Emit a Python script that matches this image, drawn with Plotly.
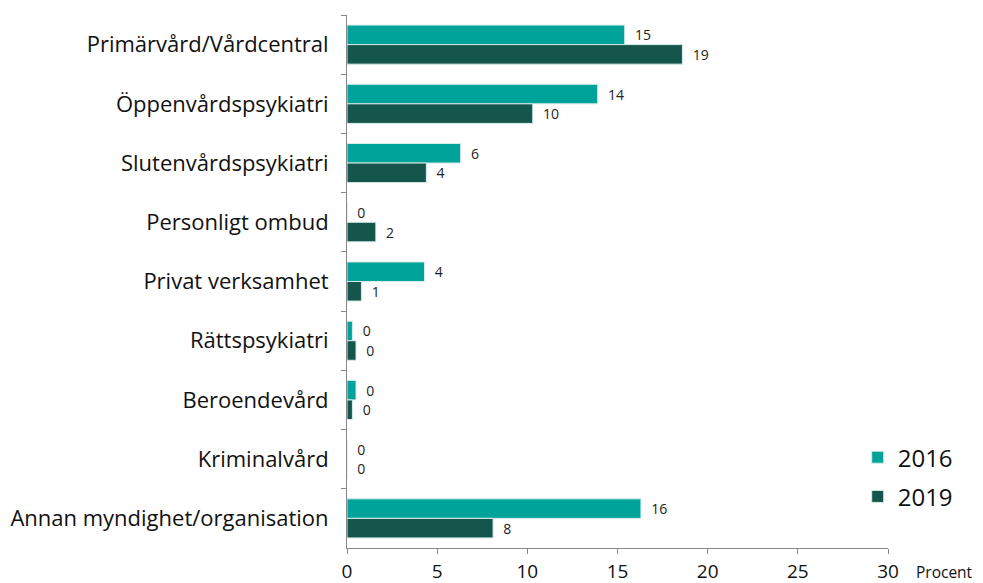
import plotly.graph_objects as go

categories = [
    "Primärvård/Vårdcentral",
    "Öppenvårdspsykiatri",
    "Slutenvårdspsykiatri",
    "Personligt ombud",
    "Privat verksamhet",
    "Rättspsykiatri",
    "Beroendevård",
    "Kriminalvård",
    "Annan myndighet/organisation",
]
values_2016 = [15.4, 13.9, 6.3, 0.0, 4.3, 0.3, 0.5, 0.0, 16.3]
values_2019 = [18.6, 10.3, 4.4, 1.6, 0.8, 0.5, 0.3, 0.0, 8.1]
x_ticks = [0, 5, 10, 15, 20, 25, 30]

TEAL = "#00A39A"
DARK = "#14554C"
FONT = "Open Sans"

fig = go.Figure()
for name, vals, color in (("2016", values_2016, TEAL), ("2019", values_2019, DARK)):
    fig.add_trace(go.Bar(
        y=categories,
        x=vals,
        orientation="h",
        name=name,
        legendgroup=name,
        marker={"color": color, "line": {"color": "#d8ecea", "width": 1}},
        text=[f"{v:.0f}" for v in vals],
        texttemplate="\u00a0\u00a0%{text}",
        textposition="outside",
        textfont={"size": 14, "color": "#222222", "family": FONT},
        cliponaxis=False,
    ))

# the page body adds an 8px margin, so the figure is 8px smaller each way
fig.update_layout(
    width=975,
    height=575,
    barmode="group",
    bargap=0.34,
    bargroupgap=0.0,
    plot_bgcolor="white",
    paper_bgcolor="white",
    margin={"l": 339, "r": 95, "t": 7, "b": 35, "autoexpand": False},
    font={"family": FONT, "color": "#111111"},
    legend={
        "x": 0.944, "y": 0.133, "xanchor": "left", "yanchor": "middle",
        "traceorder": "grouped",
        "font": {"size": 24},
        "tracegroupgap": 5,
        "bgcolor": "rgba(0,0,0,0)",
    },
    annotations=[{
        "text": "Procent", "xref": "paper", "yref": "paper",
        "x": 1.048, "y": 0, "yshift": -24, "xanchor": "left", "yanchor": "middle",
        "showarrow": False, "font": {"size": 15.5},
    }],
)
fig.update_xaxes(
    range=[0, 30],
    tickvals=x_ticks,
    showgrid=False,
    zeroline=False,
    showline=True,
    linecolor="#888888",
    ticks="outside",
    tickcolor="#888888",
    ticklen=5,
    tickfont={"size": 19},
    ticklabelstandoff=1,
)
fig.update_yaxes(
    autorange="reversed",
    showgrid=False,
    showline=True,
    linecolor="#888888",
    ticks="outside",
    tickson="boundaries",
    tickcolor="#888888",
    ticklen=5,
    tickfont={"size": 22},
    ticklabelstandoff=13,
)

fig.write_html("out.html")
